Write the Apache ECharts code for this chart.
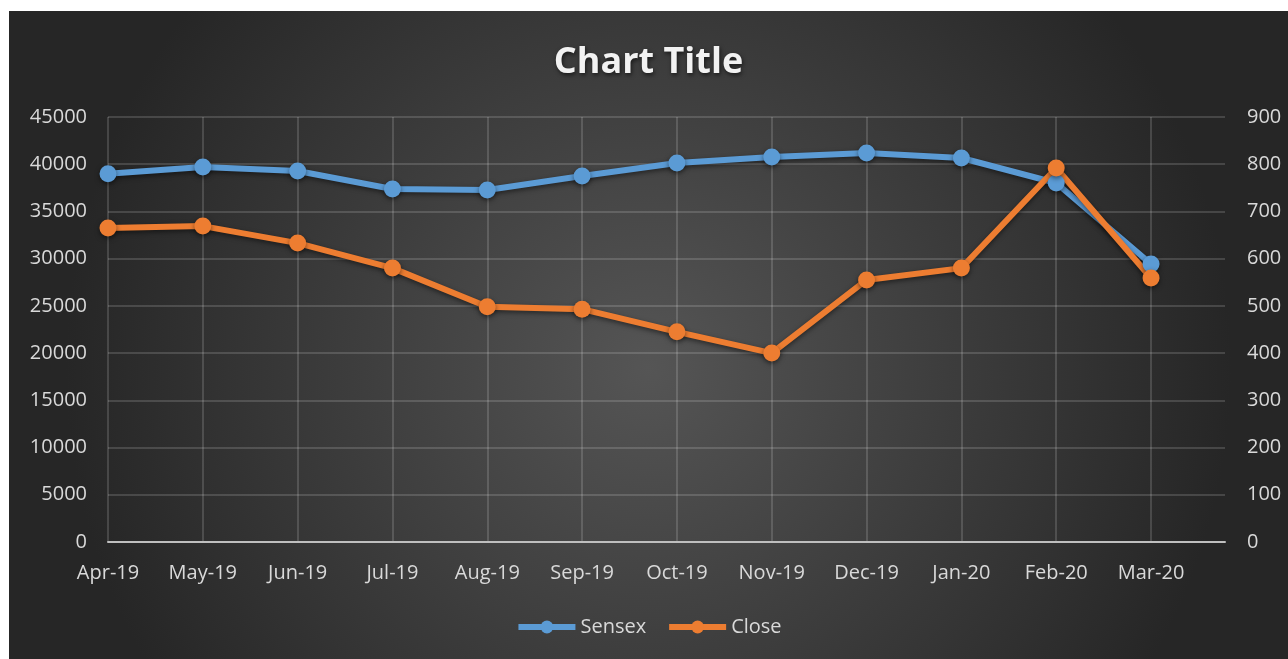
<!DOCTYPE html>
<html>
<head>
<meta charset="utf-8">
<script src="https://cdn.jsdelivr.net/npm/echarts@6/dist/echarts.min.js"></script>
<style>
  html, body { margin: 0; padding: 0; background: #fff; }
  #chart { position: absolute; left: 9px; top: 11px; width: 1279px; height: 648px; }
</style>
</head>
<body>
<div id="chart"></div>
<script>
var months = ['Apr-19', 'May-19', 'Jun-19', 'Jul-19', 'Aug-19', 'Sep-19',
              'Oct-19', 'Nov-19', 'Dec-19', 'Jan-20', 'Feb-20', 'Mar-20'];
var sensex = [39000, 39700, 39280, 37380, 37270, 38750, 40130, 40770, 41190, 40660, 38010, 29440];
var close  = [665, 669, 633, 580, 498, 493, 445, 400, 555, 580, 792, 559];

var chart = echarts.init(document.getElementById('chart'));

function pairs(arr) {
    var out = [];
    for (var i = 0; i < arr.length; i++) {
        out.push([i, arr[i]]);
    }
    return out;
}

var labelStyle = { color: '#d9d9d9', fontSize: 20, fontFamily: 'Open Sans' };
var gridLine = { show: true, lineStyle: { color: 'rgba(255,255,255,0.2)', width: 1.5 } };
var shadow = { shadowColor: 'rgba(0,0,0,0.5)', shadowBlur: 5, shadowOffsetY: 2 };

var option = {
    backgroundColor: new echarts.graphic.RadialGradient(0.5, 0.55, 0.9, [
        { offset: 0, color: '#555555' },
        { offset: 1, color: '#262626' }
    ]),
    title: {
        text: 'Chart Title',
        left: 'center',
        top: 29,
        textStyle: {
            color: '#f2f2f2',
            fontSize: 36,
            fontWeight: 'bold',
            fontFamily: 'Open Sans',
            textShadowColor: 'rgba(0,0,0,0.6)',
            textShadowBlur: 4,
            textShadowOffsetX: 1,
            textShadowOffsetY: 2
        }
    },
    legend: {
        bottom: 17,
        left: 'center',
        itemWidth: 57,
        itemHeight: 16,
        itemGap: 20,
        lineStyle: { width: 6 },
        textStyle: labelStyle,
        data: ['Sensex', 'Close']
    },
    grid: { left: 99, right: 63, top: 106, bottom: 117 },
    xAxis: {
        type: 'value',
        min: 0,
        max: 11.78,
        interval: 1,
        axisLine: { show: true, lineStyle: { color: '#bfbfbf', width: 2 } },
        axisTick: { show: false },
        axisLabel: Object.assign({
            margin: 21,
            showMaxLabel: false,
            formatter: function (v) { return months[v] || ''; }
        }, labelStyle),
        splitLine: Object.assign({ showMaxLine: false }, gridLine)
    },
    yAxis: [
        {
            type: 'value',
            min: 0,
            max: 45000,
            interval: 5000,
            axisLine: { show: false },
            axisTick: { show: false },
            axisLabel: Object.assign({ margin: 21, formatter: function (v) { return String(v); } }, labelStyle),
            splitLine: gridLine
        },
        {
            type: 'value',
            min: 0,
            max: 900,
            interval: 100,
            axisLine: { show: false },
            axisTick: { show: false },
            axisLabel: Object.assign({ margin: 22, formatter: function (v) { return String(v); } }, labelStyle),
            splitLine: { show: false }
        }
    ],
    series: [
        {
            name: 'Sensex',
            type: 'line',
            yAxisIndex: 0,
            data: pairs(sensex),
            symbol: 'circle',
            symbolSize: 17,
            color: '#5b9bd5',
            lineStyle: Object.assign({ width: 6 }, shadow),
            itemStyle: shadow,
            animation: false
        },
        {
            name: 'Close',
            type: 'line',
            yAxisIndex: 1,
            data: pairs(close),
            symbol: 'circle',
            symbolSize: 17,
            color: '#ed7d31',
            lineStyle: Object.assign({ width: 6 }, shadow),
            itemStyle: shadow,
            animation: false
        }
    ]
};

chart.setOption(option);
</script>
</body>
</html>
